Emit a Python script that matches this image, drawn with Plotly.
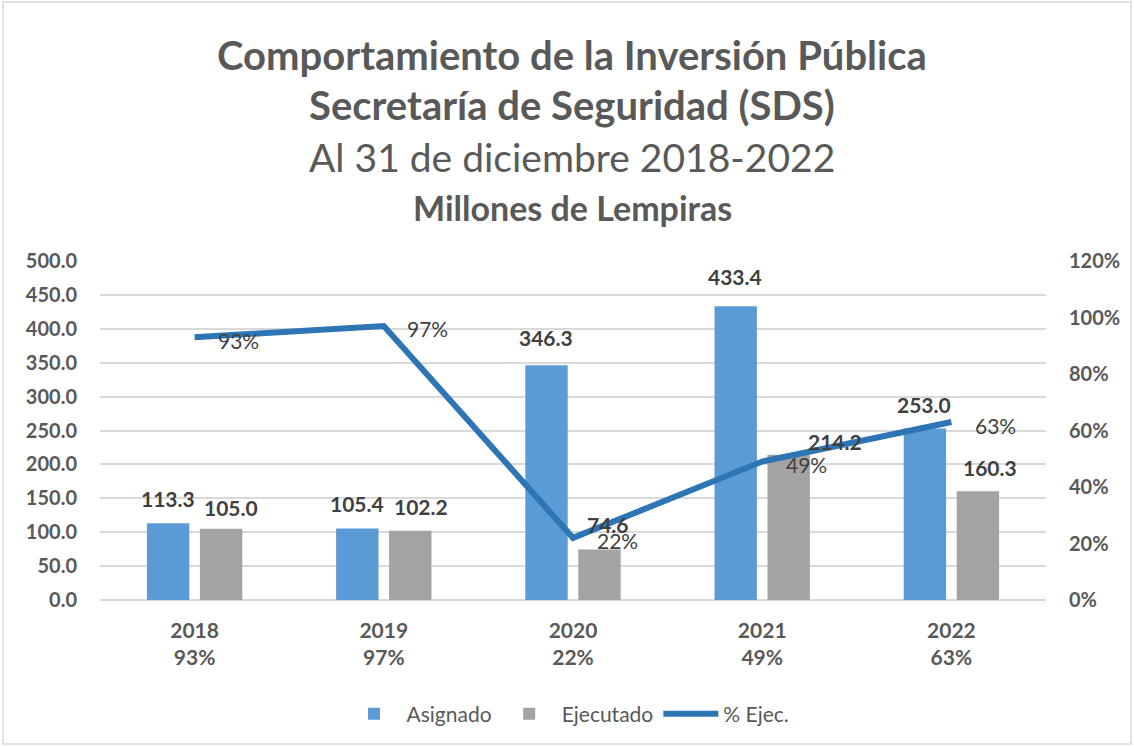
import plotly.graph_objects as go

years = ["2018", "2019", "2020", "2021", "2022"]
pct_labels = ["93%", "97%", "22%", "49%", "63%"]
asignado = [113.3, 105.4, 346.3, 433.4, 253.0]
ejecutado = [105.0, 102.2, 74.6, 214.2, 160.3]
pct_ejec = [0.93, 0.97, 0.22, 0.49, 0.63]

ticktext = [f"{y}<br>{p}" for y, p in zip(years, pct_labels)]

# label nudges in pixels (style only): (xshift, yshift)
asig_nudge = [(-27, 25), (-27, 25), (-27, 28), (-27, 30), (-27, 24)]
ejec_nudge = [(36, 21), (37, 24), (35, 25), (73, 13), (39, 24)]

W, H = 1134, 747
L, R, T, B = 100, 88, 261, 147
ph = H - T - B
pw = W - L - R

def py(Y):
    return (H - B - Y) / ph

def px(X):
    return (X - L) / pw

FONT = "Lato"
DARK = "#404040"
GREY = "#595959"

fig = go.Figure()
fig.add_trace(go.Bar(
    x=years, y=asignado, name="Asignado",
    marker=dict(color="#5B9BD5", line=dict(width=0)),
))
fig.add_trace(go.Bar(
    x=years, y=ejecutado, name="Ejecutado",
    marker=dict(color="#A3A3A3", line=dict(width=0)),
))
fig.add_trace(go.Scatter(
    x=years, y=pct_ejec, name="% Ejec.", yaxis="y2",
    mode="lines",
    line=dict(color="#2E75B6", width=6),
    cliponaxis=False,
))

annotations = []
# bar value labels (x given as category index on the category axis)
for series, nudges in ((asignado, asig_nudge), (ejecutado, ejec_nudge)):
    for i, (v, (dx, dy)) in enumerate(zip(series, nudges)):
        annotations.append(dict(
            x=i, y=v, xref="x", yref="y", text=f"{v:.1f}", showarrow=False,
            xanchor="center", yanchor="middle", xshift=dx, yshift=dy,
            font=dict(family=FONT, size=21, color=DARK, weight="bold"),
        ))
# line value labels
for i, (v, t) in enumerate(zip(pct_ejec, pct_labels)):
    annotations.append(dict(
        x=i, y=v, xref="x", yref="y2", text=t, showarrow=False,
        xanchor="center", yanchor="middle", xshift=44, yshift=-3,
        font=dict(family=FONT, size=21, color=DARK),
    ))

titles = [
    ("Comportamiento de la Inversión Pública", 55, 40, "bold"),
    ("Secretaría de Seguridad (SDS)", 105, 40, "bold"),
    ("Al 31 de diciembre 2018-2022", 157, 39, "normal"),
    ("Millones de Lempiras", 207, 34, "bold"),
]
for txt, yy, sz, wt in titles:
    annotations.append(dict(
        text=txt, xref="paper", yref="paper", x=px(572), y=py(yy),
        xanchor="center", yanchor="middle", showarrow=False,
        font=dict(family=FONT, size=sz, color=GREY, weight=wt),
    ))

fig.update_layout(
    width=W, height=H,
    margin=dict(l=L, r=R, t=T, b=B),
    paper_bgcolor="white", plot_bgcolor="white",
    barmode="group", bargap=0.44, bargroupgap=0.2,
    font=dict(family=FONT, color=GREY),
    xaxis=dict(
        type="category", categoryorder="array", categoryarray=years,
        tickmode="array", tickvals=years, ticktext=ticktext,
        tickfont=dict(family=FONT, size=21, color=GREY, weight="bold"),
        showline=False, ticks="", showgrid=False, ticklabelstandoff=16,
    ),
    yaxis=dict(
        range=[0, 500], dtick=50, tickformat=".1f",
        tickfont=dict(family=FONT, size=20, color=GREY, weight="bold"),
        showgrid=True, gridcolor="#D9D9D9", gridwidth=1.5,
        zeroline=True, zerolinecolor="#D9D9D9", zerolinewidth=1.5,
        ticks="", ticklabelstandoff=22,
    ),
    yaxis2=dict(
        range=[0, 1.2], dtick=0.2, tickformat=".0%", overlaying="y", side="right",
        tickfont=dict(family=FONT, size=20, color=GREY, weight="bold"),
        showgrid=False, zeroline=False, ticks="", ticklabelstandoff=22,
    ),
    legend=dict(
        orientation="h", x=px(568), xanchor="center", y=py(714), yanchor="middle",
        font=dict(family=FONT, size=21, color=GREY), traceorder="normal",
        itemwidth=55,
    ),
    annotations=annotations,
    shapes=[dict(
        type="rect", xref="paper", yref="paper",
        x0=px(3), x1=px(1131), y0=py(744), y1=py(2),
        line=dict(color="#D9D9D9", width=1.5), fillcolor="rgba(0,0,0,0)", layer="below",
    )],
)

fig.write_html(
    "out.html",
    config={"displayModeBar": False},
    post_script="document.body.style.margin='0';document.body.style.overflow='hidden';",
)
